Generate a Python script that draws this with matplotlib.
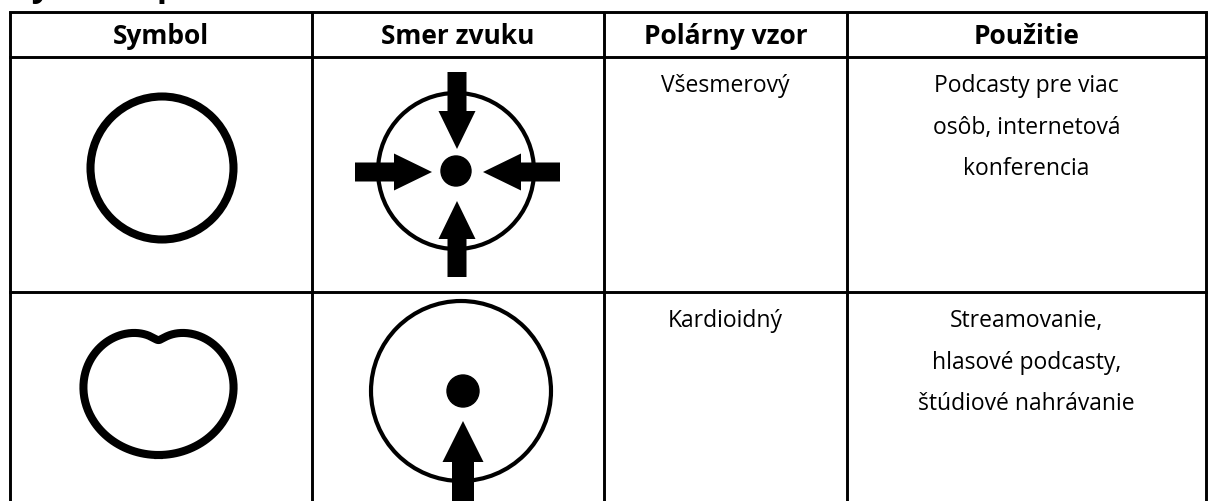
import numpy as np
import matplotlib.pyplot as plt
from matplotlib.patches import Circle, FancyArrow

plt.rcParams['font.family'] = ['Open Sans', 'DejaVu Sans']

title = "Vybrané polárne vzorce"
headers = ["Symbol", "Smer zvuku", "Polárny vzor", "Použitie"]
patterns = ["Všesmerový", "Kardioidný"]
uses = [["Podcasty pre viac", "osôb, internetová", "konferencia"],
        ["Streamovanie,", "hlasové podcasty,", "štúdiové nahrávanie"]]

# table grid in pixels
col_x = [10, 312, 604, 847, 1206]
row_y = [13, 58, 293, 520]

fig = plt.figure(figsize=(12.08, 5.02), dpi=100)
ax = fig.add_axes([0, 0, 1, 1])
ax.set_xlim(0, 1208)
ax.set_ylim(502, 0)
ax.axis('off')

lw = 2.1
for x in col_x:
    ax.plot([x, x], [row_y[0], row_y[-1]], color='black', lw=lw, solid_capstyle='butt')
for y in row_y[:-1]:
    ax.plot([col_x[0], col_x[-1]], [y, y], color='black', lw=lw, solid_capstyle='projecting')

# title sits above the crop, only descenders are visible
ax.text(10, -3.5, title, fontsize=24, fontweight='bold', va='baseline', ha='left')

centers = [(col_x[i] + col_x[i + 1]) / 2 for i in range(4)]
for cx, h in zip(centers, headers):
    ax.text(cx, 36, h, fontsize=19, fontweight='bold', ha='center', va='center')

for r, (pat, use) in enumerate(zip(patterns, uses)):
    top = row_y[r + 1] + 16
    ax.text(centers[2], top, pat, fontsize=16.5, ha='center', va='top')
    ax.text(centers[3], top, "\n".join(use), fontsize=16.5, ha='center', va='top',
            linespacing=1.98)

# symbol column: omnidirectional circle
ax.add_patch(Circle((162, 169), 71.5, fill=False, lw=5.8, ec='black'))

# cardioid-like shape (limacon), front pointing down
A, B = 0.55, 0.45
phi = np.linspace(0, 2 * np.pi, 400)
r = A + B * np.cos(phi)
ax.plot(158.5 + 111.7 * r * np.sin(phi), 351.5 + 104.5 * r * np.cos(phi),
        color='black', lw=5.8, solid_joinstyle='round')


def arrow(tail, tip, shaft, head_w, head_l):
    ax.add_patch(FancyArrow(tail[0], tail[1], tip[0] - tail[0], tip[1] - tail[1],
                            width=shaft, head_width=head_w, head_length=head_l,
                            length_includes_head=True, color='black', lw=0))


# sound direction: omni
ax.add_patch(Circle((456, 172), 78, fill=False, lw=3, ec='black'))
ax.add_patch(Circle((456, 172), 15, color='black'))
arrow((457, 73), (457, 150), 19, 37, 38)
arrow((457, 278), (457, 202), 19, 37, 38)
arrow((355, 173), (432, 173), 19, 37, 38)
arrow((560, 173), (483, 173), 19, 37, 38)

# sound direction: cardioid
ax.add_patch(Circle((461, 392), 90, fill=False, lw=3, ec='black'))
ax.add_patch(Circle((463, 392), 16, color='black'))
arrow((463, 540), (463, 422), 22, 41, 41)

fig.savefig("out.png", dpi=100)
